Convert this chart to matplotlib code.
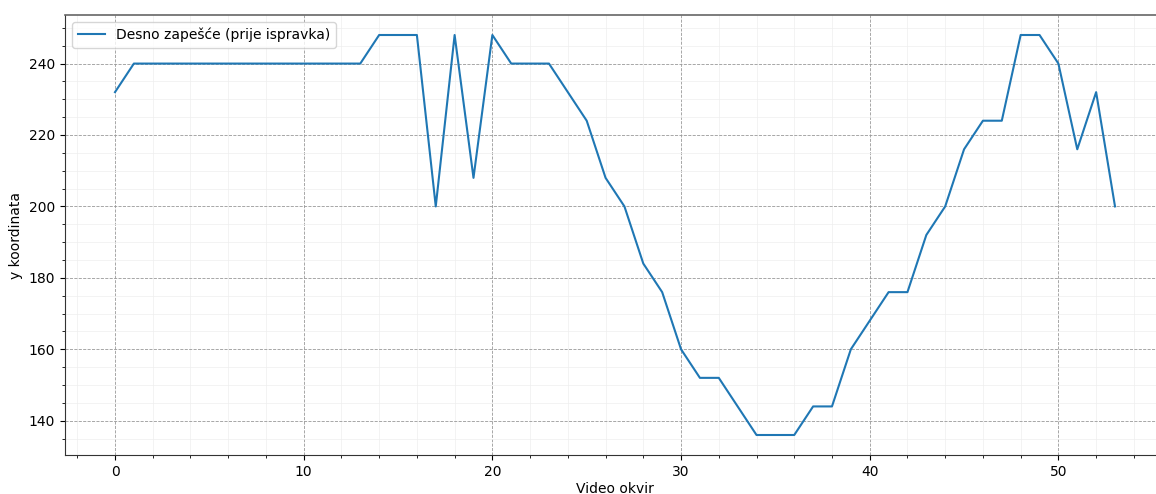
import matplotlib
matplotlib.use("Agg")
import matplotlib.pyplot as plt
from matplotlib.ticker import AutoMinorLocator

# frame index and y coordinate of the right wrist (before correction)
frames = list(range(54))
y_coord = [
    232, 240, 240, 240, 240, 240, 240, 240, 240, 240,
    240, 240, 240, 240, 248, 248, 248, 200, 248, 208,
    248, 240, 240, 240, 232, 224, 208, 200, 184, 176,
    160, 152, 152, 144, 136, 136, 136, 144, 144, 160,
    168, 176, 176, 192, 200, 216, 224, 224, 248, 248,
    240, 216, 232, 200,
]
series_label = "Desno zapešće (prije ispravka)"

fig = plt.figure(figsize=(11.56, 4.94), dpi=100)
# axes runs slightly past the right edge, like the cropped original
ax = fig.add_axes([65 / 1156, 39 / 494, 1100 / 1156, 440 / 494])

ax.plot(frames, y_coord, color="#1f77b4", linewidth=1.5, label=series_label)

ax.xaxis.set_minor_locator(AutoMinorLocator())
ax.yaxis.set_minor_locator(AutoMinorLocator())
ax.grid(which="major", linestyle="--", linewidth=0.6, color="#999999")
ax.grid(which="minor", linestyle="-", linewidth=0.5, color="#eeeeee")

ax.set_xlabel("Video okvir", labelpad=2)
ax.set_ylabel("y koordinata")

for side in ["left", "bottom"]:
    ax.spines[side].set_color("#333333")
for side in ["top", "right"]:
    ax.spines[side].set_color("#666666")
    ax.spines[side].set_linewidth(1.2)

ax.legend(loc="upper left")

fig.savefig("out.png", dpi=100)
